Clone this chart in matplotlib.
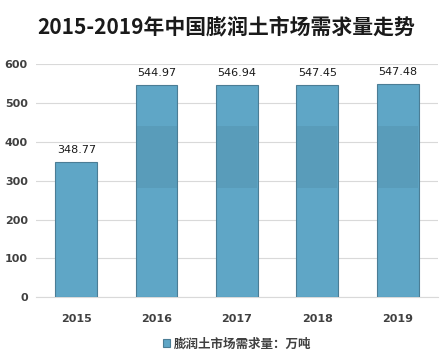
import numpy as np
import matplotlib.pyplot as plt

plt.rcParams['font.family'] = ['Noto Sans CJK SC', 'DejaVu Sans']

years = ['2015', '2016', '2017', '2018', '2019']
demand = [348.77, 544.97, 546.94, 547.45, 547.48]
legend_label = '膨润土市场需求量：万吨'

fig = plt.figure(figsize=(4.4, 3.56), dpi=100)
ax = fig.add_axes([0.082, 0.165, 0.913, 0.655])

x = np.arange(len(years))
bars = ax.bar(x, demand, width=0.52, color='#5fa6c6', edgecolor='#4b7d95',
              linewidth=0.8, zorder=3, label=legend_label)

# slightly darker band in the middle of the tall bars (original's shading)
for rect, v in zip(bars, demand):
    if v > 440:
        ax.bar(rect.get_x() + rect.get_width() / 2, 440 - 281, bottom=281,
               width=rect.get_width() - 0.02, color='#4f8aa6', alpha=0.35,
               linewidth=0, zorder=3.5)

for xi, v in zip(x, demand):
    ax.text(xi, v + 18, f'{v:.2f}', ha='center', va='bottom', fontsize=8,
            color='#1a1a1a', family='DejaVu Sans')

ax.set_xlim(-0.5, len(years) - 0.5)
ax.set_ylim(0, 600)
ax.set_yticks(range(0, 601, 100))
ax.set_xticks(x)
ax.set_xticklabels(years)
ax.grid(axis='y', color='#d9d9d9', linewidth=0.8, zorder=0)
for s in ['top', 'right', 'left']:
    ax.spines[s].set_visible(False)
ax.spines['bottom'].set_color('#d9d9d9')
ax.tick_params(length=0, labelsize=8, colors='#404040', pad=6)
for lab in ax.get_xticklabels() + ax.get_yticklabels():
    lab.set_fontweight('bold')
    lab.set_family('DejaVu Sans')
ax.tick_params(axis='x', pad=12)

fig.suptitle('2015-2019年中国膨润土市场需求量走势', x=0.515, y=0.955,
             fontsize=15, fontweight='bold', color='#1a1a1a')

leg = ax.legend(handles=[bars[0]], labels=[legend_label], loc='upper center',
                bbox_to_anchor=(0.5, -0.125), frameon=False, fontsize=9,
                handlelength=0.6, handleheight=0.6, handletextpad=0.3)
for t in leg.get_texts():
    t.set_fontweight('bold')
    t.set_color('#404040')

fig.savefig('out.png', dpi=100)
